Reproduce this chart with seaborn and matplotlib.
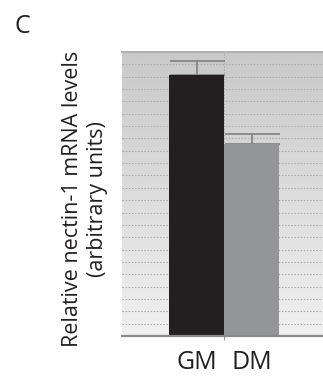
import numpy as np
import pandas as pd
import matplotlib
matplotlib.use("Agg")
import matplotlib.pyplot as plt
from matplotlib.colors import LinearSegmentedColormap
import seaborn as sns

# ---- data (arbitrary units) ----
categories = ["GM", "DM"]
values = [1.057, 0.778]
errors = [0.055, 0.040]
bar_colors = ["#231f20", "#939598"]
y_max = 1.15
grid_step = 0.05

sns.set_theme(style="white")
plt.rcParams["font.family"] = ["Open Sans", "DejaVu Sans"]

fig = plt.figure(figsize=(3.23, 3.77), dpi=100)
ax = fig.add_axes([122 / 323, 41 / 377, 1 - 122 / 323, 284 / 377])

df = pd.DataFrame({"cond": categories, "level": values})

# gradient background (darker at top, lighter at bottom)
grad = np.linspace(0, 1, 256).reshape(-1, 1)
cmap = LinearSegmentedColormap.from_list("bg", ["#c9c9c9", "#f0f0f0"])
ax.imshow(grad, cmap=cmap, aspect="auto", extent=(-1.36, 2.3, 0, y_max),
          zorder=0, origin="upper")

sns.barplot(data=df, x="cond", y="level", hue="cond", palette=bar_colors,
            width=1.0, errorbar=None, legend=False, ax=ax, zorder=3,
            linewidth=0, saturation=1)

xpos = np.arange(len(categories))
ax.errorbar(xpos, values, yerr=[np.zeros(len(errors)), errors], fmt="none",
            ecolor="#7f7f7f", elinewidth=1.2, capsize=19.8, capthick=1.2,
            zorder=2)

ax.set_xlim(-1.36, 2.3)
ax.set_ylim(0, y_max)

# grid
ax.set_yticks(np.arange(grid_step, y_max - 1e-9, grid_step))
ax.set_yticklabels([])
ax.tick_params(axis="y", length=0)
ax.yaxis.grid(True, linestyle=(0, (1.5, 1.5)), color="#acacac", linewidth=0.75)
ax.set_xticks(xpos, categories)
ax.set_xticks([0.5], minor=True)
ax.xaxis.grid(True, which="minor", linestyle=(0, (1.5, 1.5)), color="#acacac",
              linewidth=0.75)
ax.tick_params(axis="x", which="major", length=0, pad=10, labelsize=18,
               labelcolor="#231f20")
ax.tick_params(axis="x", which="minor", length=3, width=0.8, color="#9a9a9a",
               direction="out", bottom=True)
ax.set_axisbelow(True)
ax.set_xlabel("")
ax.set_ylabel("")

for s in ["left", "right"]:
    ax.spines[s].set_visible(False)
ax.spines["bottom"].set_color("#8a8a8a")
ax.spines["bottom"].set_linewidth(1.6)
ax.spines["bottom"].set_zorder(5)
ax.spines["top"].set_color("#b0b0b0")
ax.spines["top"].set_linewidth(1.4)

fig.text(84.5 / 323, 1 - 199 / 377,
         "Relative nectin-1 mRNA levels\n(arbitrary units)",
         rotation=90, ha="center", va="center", multialignment="center",
         fontsize=15.5, color="#231f20", linespacing=1.25)
fig.text(14 / 323, 1 - 33 / 377, "C", ha="left", va="baseline",
         fontsize=18, color="#231f20")

fig.savefig("out.png", dpi=100, facecolor="white")
